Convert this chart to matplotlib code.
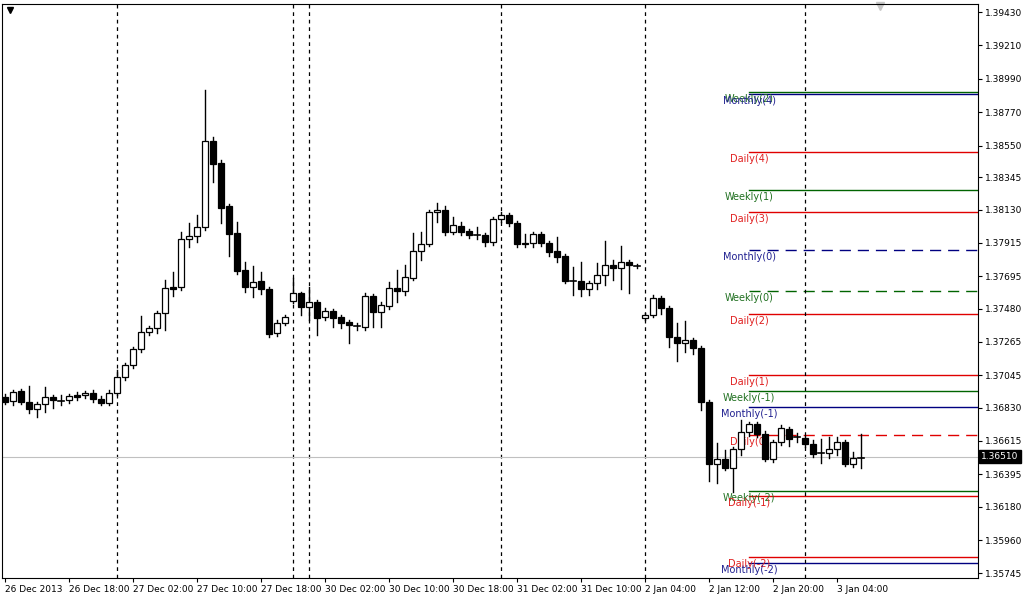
import matplotlib
matplotlib.use("Agg")
import matplotlib.pyplot as plt
from matplotlib.patches import Rectangle

# Price scale: 1.39430 at screen row 12, 15224 rows per 1.0 of price
P0, PY0, SCALE = 1.39430, 12, 15224.0
def px2p(v):
    return P0 - (v - PY0) / SCALE

# Candle readings (screen rows), converted to prices below
open_px = [397,401,391,402,409,404,397,401,400,395,395,393,399,403,393,377,365,349,332,328,
           313,287,287,239,236,227,141,163,206,233,270,287,281,289,333,323,301,293,307,302,
           317,311,317,322,326,327,296,312,306,288,291,278,251,244,212,210,232,226,231,235,
           235,242,219,215,223,243,243,234,243,251,256,281,281,289,283,275,265,268,262,266,
           318,315,298,308,337,343,340,348,402,464,459,468,449,432,424,434,459,442,429,437,
           438,444,453,453,449,442,464,458]
close_px = [402,392,402,409,404,397,400,401,396,397,393,399,403,393,377,365,349,332,328,313,
            288,289,239,236,227,141,164,208,234,271,287,282,289,334,323,317,293,307,302,318,
            311,318,323,325,326,296,312,305,288,291,277,251,244,212,210,232,225,232,235,235,
            242,219,215,223,244,244,234,243,252,257,281,281,289,283,275,265,268,262,265,266,
            315,298,308,337,343,340,348,402,464,459,468,449,432,424,434,459,442,428,439,437,
            444,454,453,449,442,464,458,458]
high_px = [394,390,389,386,402,387,395,395,394,392,391,390,396,390,370,363,347,316,326,311,
           280,272,232,223,215,90,137,160,204,222,262,266,272,287,320,315,278,292,287,300,
           308,309,315,320,323,293,294,302,282,270,265,233,232,210,203,206,217,222,229,227,
           233,217,212,213,221,234,232,232,241,237,254,267,262,281,263,241,260,246,260,264,
           313,295,296,306,323,321,338,346,400,443,450,447,420,422,422,431,440,425,427,433,
           436,440,439,437,437,440,452,434]
low_px = [404,405,404,413,417,412,408,405,403,400,398,402,405,405,395,380,368,352,335,333,
          330,296,290,247,242,230,182,223,256,274,292,297,294,337,336,325,303,315,320,335,
          320,327,328,343,330,330,327,327,309,302,295,280,260,246,222,235,234,235,238,239,
          246,245,222,226,247,247,247,246,256,262,283,295,296,295,289,285,280,289,293,268,
          320,317,314,347,361,352,354,410,481,483,470,492,455,436,437,461,462,445,446,442,
          447,457,463,458,455,466,467,468]

opens = [px2p(v) for v in open_px]
closes = [px2p(v) for v in close_px]
highs = [px2p(v) for v in high_px]
lows = [px2p(v) for v in low_px]

pivot_names = ["Weekly(2)", "Monthly(4)", "Daily(4)", "Weekly(1)", "Daily(3)", "Monthly(0)", "Weekly(0)",
               "Daily(2)", "Daily(1)", "Weekly(-1)", "Monthly(-1)", "Daily(0)", "Weekly(-2)", "Daily(-1)",
               "Daily(-2)", "Monthly(-2)"]
pivot_px = [92, 94, 152, 190, 212, 250, 291, 314, 375, 391, 407, 435, 491, 496, 557, 563]
pivot_levels = [px2p(v) for v in pivot_px]

yticks = [1.39430, 1.39210, 1.38990, 1.38770, 1.38550, 1.38345, 1.38130, 1.37915, 1.37695, 1.37480,
          1.37265, 1.37045, 1.36830, 1.36615, 1.36395, 1.36180, 1.35960, 1.35745]
xtick_labels = ["26 Dec 2013", "26 Dec 18:00", "27 Dec 02:00", "27 Dec 10:00", "27 Dec 18:00", "30 Dec 02:00",
                "30 Dec 10:00", "30 Dec 18:00", "31 Dec 02:00", "31 Dec 10:00", "2 Jan 04:00", "2 Jan 12:00",
                "2 Jan 20:00", "3 Jan 04:00"]
separators = [14, 36, 38, 62, 80, 100]
bid = 1.36510

n = min(len(opens), len(closes), len(highs), len(lows))

fig = plt.figure(figsize=(10.24, 5.97), dpi=100)
ax = fig.add_axes([2/1024, 19/597, 976/1024, 574/597])
ax.set_xlim(-0.375, 121.625)
ax.set_ylim(px2p(578), px2p(4))

colors = {"Daily": "#e00000", "Weekly": "#006400", "Monthly": "#000080"}
tcolors = {"Daily": "#e02020", "Weekly": "#207020", "Monthly": "#202090"}
for name, lvl in zip(pivot_names, pivot_levels):
    kind = name.split("(")[0]
    ls = (0, (8, 5)) if name.endswith("(0)") else "-"
    ax.plot([93, 121.625], [lvl, lvl], color=colors[kind], lw=1, ls=ls, zorder=1)
    ax.text(93, lvl - 0.00015, name, color=tcolors[kind], fontsize=7, ha="center", va="top", zorder=2)

for s in separators:
    ax.axvline(s, color="black", lw=0.9, ls=(0, (3, 3)), zorder=1)
ax.axhline(bid, color="#c0c0c0", lw=0.8, zorder=1)

for i in range(n):
    o, c, h, l = opens[i], closes[i], highs[i], lows[i]
    ax.plot([i, i], [l, h], color="black", lw=1, zorder=3)
    lo, hi = min(o, c), max(o, c)
    if hi - lo < 0.00002:
        ax.plot([i - 0.35, i + 0.35], [o, o], color="black", lw=1.2, zorder=4)
    else:
        ax.add_patch(Rectangle((i - 0.35, lo), 0.7, hi - lo, facecolor="black" if c < o else "white",
                               edgecolor="black", lw=0.9, zorder=4))

ax.yaxis.tick_right()
ax.set_yticks(yticks)
ax.set_yticklabels([f"{v:.5f}" for v in yticks], fontsize=6.5)
ax.set_xticks([8 * k for k in range(len(xtick_labels))])
ax.set_xticklabels(xtick_labels, fontsize=6.5, ha="left")
ax.tick_params(length=3, width=0.8, pad=2)
for sp in ax.spines.values():
    sp.set_linewidth(0.8)
ylo, yhi = ax.get_ylim()
ax.text(1.003, (bid - ylo) / (yhi - ylo), f"{bid:.5f}",
        transform=ax.transAxes, fontsize=6.5, color="white", va="center", ha="left",
        bbox=dict(boxstyle="square,pad=0.25", fc="black", ec="black"))
ax.plot([0.6], [px2p(10)], marker="v", color="black", ms=4)
ax.plot([109.4], [px2p(6)], marker="v", color="#c8c8c8", ms=6, clip_on=False)
fig.savefig("out.png", dpi=100)
